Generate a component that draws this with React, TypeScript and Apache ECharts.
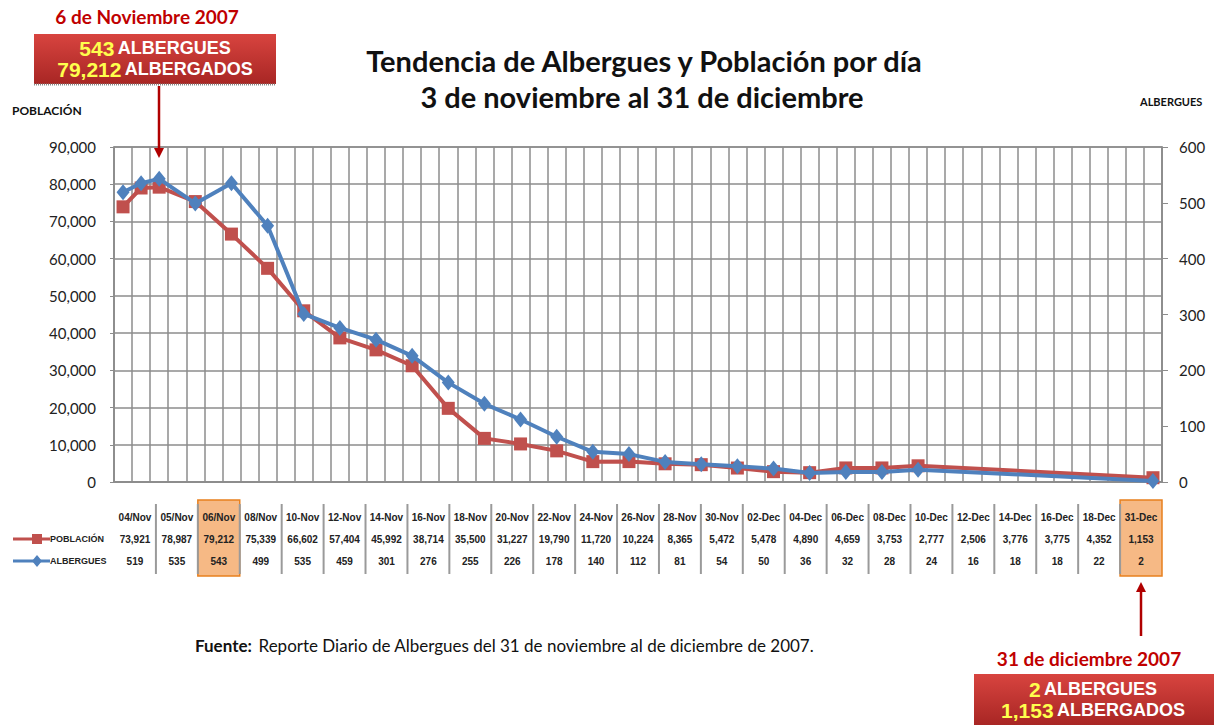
import React, { useEffect, useRef } from "react";
import * as echarts from "echarts";

// ---- Data ----
const pointDates = [
  "2007-11-04", "2007-11-05", "2007-11-06", "2007-11-08", "2007-11-10", "2007-11-12",
  "2007-11-14", "2007-11-16", "2007-11-18", "2007-11-20", "2007-11-22", "2007-11-24",
  "2007-11-26", "2007-11-28", "2007-11-30", "2007-12-02", "2007-12-04", "2007-12-06",
  "2007-12-08", "2007-12-10", "2007-12-12", "2007-12-14", "2007-12-16", "2007-12-18",
  "2007-12-31",
];
const tableLabels = [
  "04/Nov", "05/Nov", "06/Nov", "08/Nov", "10-Nov", "12-Nov", "14-Nov", "16-Nov",
  "18-Nov", "20-Nov", "22-Nov", "24-Nov", "26-Nov", "28-Nov", "30-Nov", "02-Dec",
  "04-Dec", "06-Dec", "08-Dec", "10-Dec", "12-Dec", "14-Dec", "16-Dec", "18-Dec",
  "31-Dec",
];
const poblacion = [
  73921, 78987, 79212, 75339, 66602, 57404, 45992, 38714, 35500, 31227, 19790, 11720,
  10224, 8365, 5472, 5478, 4890, 4659, 3753, 2777, 2506, 3776, 3775, 4352, 1153,
];
const albergues = [
  519, 535, 543, 499, 535, 459, 301, 276, 255, 226, 178, 140, 112, 81, 54, 50, 36, 32,
  28, 24, 16, 18, 18, 22, 2,
];
const highlighted = ["06/Nov", "31-Dec"];
const popTicks = { min: 0, max: 90000, interval: 10000 };
const albTicks = { min: 0, max: 600, interval: 100 };

// all days of the date axis (Nov 4 – Dec 31, 2007)
const days: string[] = [];
for (let t = Date.UTC(2007, 10, 4); t <= Date.UTC(2007, 11, 31); t += 86400000) {
  days.push(new Date(t).toISOString().slice(0, 10));
}
const seriesOnDays = (vals: number[]) =>
  days.map((d) => {
    const i = pointDates.indexOf(d);
    return i >= 0 ? vals[i] : null;
  });

const RED = "#c0504d";
const BLUE = "#4f81bd";
const GRID = "#8c8c8c";
const DARKRED = "#c00000";

export default function App() {
  const ref = useRef<HTMLDivElement>(null);
  useEffect(() => {
    if (!ref.current) return;
    const chart = echarts.init(ref.current, undefined, { renderer: "svg" });

    const gLeft = 114;
    const gTop = 147;
    const gWidth = 1048;
    const gHeight = 335;
    const colW = gWidth / tableLabels.length;
    const fmt = (v: number) => v.toLocaleString("en-US");

    const table: any[] = [];
    tableLabels.forEach((lab, i) => {
      if (highlighted.includes(lab)) {
        table.push({
          type: "rect",
          shape: { x: gLeft + i * colW, y: 500, width: colW, height: 76 },
          style: { fill: "#f6b985", stroke: "#e8801e", lineWidth: 1.5 },
          z: 1,
        });
      }
    });
    for (let k = 1; k < tableLabels.length; k++) {
      table.push({
        type: "line",
        shape: { x1: gLeft + k * colW, y1: 504, x2: gLeft + k * colW, y2: 574 },
        style: { stroke: "#9a9a9a", lineWidth: 2 },
        z: 2,
      });
    }
    const cellFont = "bold 10px 'Liberation Sans', Arial, sans-serif";
    tableLabels.forEach((lab, i) => {
      const cx = gLeft + (i + 0.5) * colW;
      [lab, fmt(poblacion[i]), String(albergues[i])].forEach((t, r) => {
        table.push({
          type: "text",
          x: cx,
          y: 517 + r * 22,
          style: {
            text: t,
            font: cellFont,
            fill: "#222",
            textAlign: "center",
            textVerticalAlign: "middle",
            align: "center",
            verticalAlign: "middle",
          },
          z: 3,
        });
      });
    });
    const legFont = "bold 9px 'Liberation Sans', Arial, sans-serif";
    table.push(
      { type: "line", shape: { x1: 13, y1: 539, x2: 50, y2: 539 }, style: { stroke: RED, lineWidth: 3 } },
      { type: "rect", shape: { x: 32, y: 534, width: 10, height: 10 }, style: { fill: RED } },
      {
        type: "text", x: 50, y: 539,
        style: { text: "POBLACIÓN", font: legFont, fill: "#222", textVerticalAlign: "middle", verticalAlign: "middle" },
      },
      { type: "line", shape: { x1: 13, y1: 561, x2: 50, y2: 561 }, style: { stroke: BLUE, lineWidth: 3 } },
      { type: "polygon", shape: { points: [[37, 555], [42, 561], [37, 567], [32, 561]] }, style: { fill: BLUE } },
      {
        type: "text", x: 50, y: 561,
        style: { text: "ALBERGUES", font: legFont, fill: "#222", textVerticalAlign: "middle", verticalAlign: "middle" },
      }
    );

    const boxText = (cx: number, y: number, a: string, b: string) => ({
      type: "text",
      x: cx,
      y,
      style: {
        text: `{y|${a}} {w|${b}}`,
        textAlign: "center",
        textVerticalAlign: "middle",
        align: "center",
        verticalAlign: "middle",
        rich: {
          y: { fill: "#ffff4d", color: "#ffff4d", font: "bold 21px 'Liberation Sans', Arial, sans-serif" },
          w: { fill: "#ffffff", color: "#ffffff", font: "bold 18px 'Liberation Sans', Arial, sans-serif" },
        },
      },
      z: 10,
    });
    const redGrad = new echarts.graphic.LinearGradient(0, 0, 0, 1, [
      { offset: 0, color: "#d8443f" },
      { offset: 1, color: "#a82624" },
    ]);

    const center = { textAlign: "center", textVerticalAlign: "middle", align: "center", verticalAlign: "middle" };

    const graphics: any[] = [
      {
        type: "text", x: 644, y: 60,
        style: { text: "Tendencia de Albergues y Población por día", font: "bold 29px Lato, sans-serif", fill: "#111", ...center },
      },
      {
        type: "text", x: 642, y: 96,
        style: { text: "3 de noviembre al 31 de diciembre", font: "bold 29px Lato, sans-serif", fill: "#111", ...center },
      },
      {
        type: "text", x: 12, y: 110,
        style: { text: "POBLACIÓN", font: "bold 12px Lato, sans-serif", fill: "#111", textVerticalAlign: "middle", verticalAlign: "middle" },
      },
      {
        type: "text", x: 1140, y: 101,
        style: { text: "ALBERGUES", font: "bold 11px Lato, sans-serif", fill: "#111", textVerticalAlign: "middle", verticalAlign: "middle" },
      },
      {
        type: "text", x: 147, y: 16,
        style: { text: "6 de Noviembre 2007", font: "bold 19px Lato, sans-serif", fill: DARKRED, ...center },
      },
      { type: "rect", shape: { x: 34, y: 34, width: 242, height: 50 }, style: { fill: redGrad }, z: 5 },
      { type: "line", shape: { x1: 34, y1: 84.5, x2: 276, y2: 84.5 }, style: { stroke: "#888", lineWidth: 2, lineDash: [1, 1] }, z: 6 },
      boxText(155, 48, "543", "ALBERGUES"),
      boxText(155, 69, "79,212", "ALBERGADOS"),
      { type: "line", shape: { x1: 159, y1: 86, x2: 159, y2: 150 }, style: { stroke: "#b00000", lineWidth: 2.5 }, z: 6 },
      { type: "polygon", shape: { points: [[154, 148], [164, 148], [159, 158]] }, style: { fill: "#b00000" }, z: 6 },
      { type: "line", shape: { x1: 1141, y1: 590, x2: 1141, y2: 636 }, style: { stroke: "#b00000", lineWidth: 2.5 }, z: 6 },
      { type: "polygon", shape: { points: [[1136, 592], [1146, 592], [1141, 582]] }, style: { fill: "#b00000" }, z: 6 },
      {
        type: "text", x: 1089, y: 658,
        style: { text: "31 de diciembre 2007", font: "bold 19px Lato, sans-serif", fill: DARKRED, ...center },
      },
      { type: "rect", shape: { x: 974, y: 674, width: 240, height: 51 }, style: { fill: redGrad }, z: 5 },
      boxText(1093, 689, "2", "ALBERGUES"),
      boxText(1093, 710, "1,153", "ALBERGADOS"),
      {
        type: "text", x: 195, y: 645,
        style: {
          text: "{b|Fuente:}  {n|Reporte Diario de Albergues del 31 de noviembre al de diciembre de 2007.}",
          textVerticalAlign: "middle", verticalAlign: "middle",
          rich: {
            b: { font: "bold 17px Lato, sans-serif", fill: "#111", color: "#111" },
            n: { font: "17px Lato, sans-serif", fill: "#111", color: "#111" },
          },
        },
      },
      ...table,
    ];

    chart.setOption({
      animation: false,
      backgroundColor: "#ffffff",
      grid: {
        left: gLeft, top: gTop, width: gWidth, height: gHeight,
        show: true, borderColor: GRID, borderWidth: 1.5,
      },
      xAxis: {
        type: "category",
        data: days,
        boundaryGap: true,
        axisLabel: { show: false },
        axisTick: { show: false },
        axisLine: { show: true, lineStyle: { color: GRID, width: 1.5 } },
        splitLine: { show: true, interval: 0, lineStyle: { color: GRID, width: 1.5 } },
      },
      yAxis: [
        {
          type: "value",
          position: "left",
          ...popTicks,
          axisLabel: {
            formatter: (v: number) => fmt(v),
            fontFamily: "Lato, sans-serif", fontSize: 15, color: "#222", margin: 18,
          },
          axisTick: { show: true, length: 4, lineStyle: { color: GRID } },
          axisLine: { show: true, lineStyle: { color: GRID, width: 1.5 } },
          splitLine: { show: true, lineStyle: { color: GRID, width: 1.5 } },
        },
        {
          type: "value",
          position: "right",
          ...albTicks,
          axisLabel: { fontFamily: "Lato, sans-serif", fontSize: 15, color: "#222", margin: 17 },
          axisTick: { show: true, length: 6, lineStyle: { color: GRID } },
          axisLine: { show: true, lineStyle: { color: GRID, width: 1.5 } },
          splitLine: { show: false },
        },
      ],
      series: [
        {
          name: "POBLACIÓN",
          type: "line",
          data: seriesOnDays(poblacion),
          connectNulls: true,
          showSymbol: true,
          showAllSymbol: true,
          symbol: "rect",
          symbolSize: 13,
          lineStyle: { color: RED, width: 4 },
          itemStyle: { color: RED },
          z: 3,
        },
        {
          name: "ALBERGUES",
          type: "line",
          yAxisIndex: 1,
          data: seriesOnDays(albergues),
          connectNulls: true,
          showSymbol: true,
          showAllSymbol: true,
          symbol: "diamond",
          symbolSize: [13, 16],
          lineStyle: { color: BLUE, width: 4 },
          itemStyle: { color: BLUE },
          z: 4,
        },
      ],
      graphic: graphics,
    });
    return () => chart.dispose();
  }, []);
  return (
    <div
      ref={ref}
      style={{ position: "fixed", left: 0, top: 0, width: 1214, height: 725, background: "#fff" }}
    />
  );
}
